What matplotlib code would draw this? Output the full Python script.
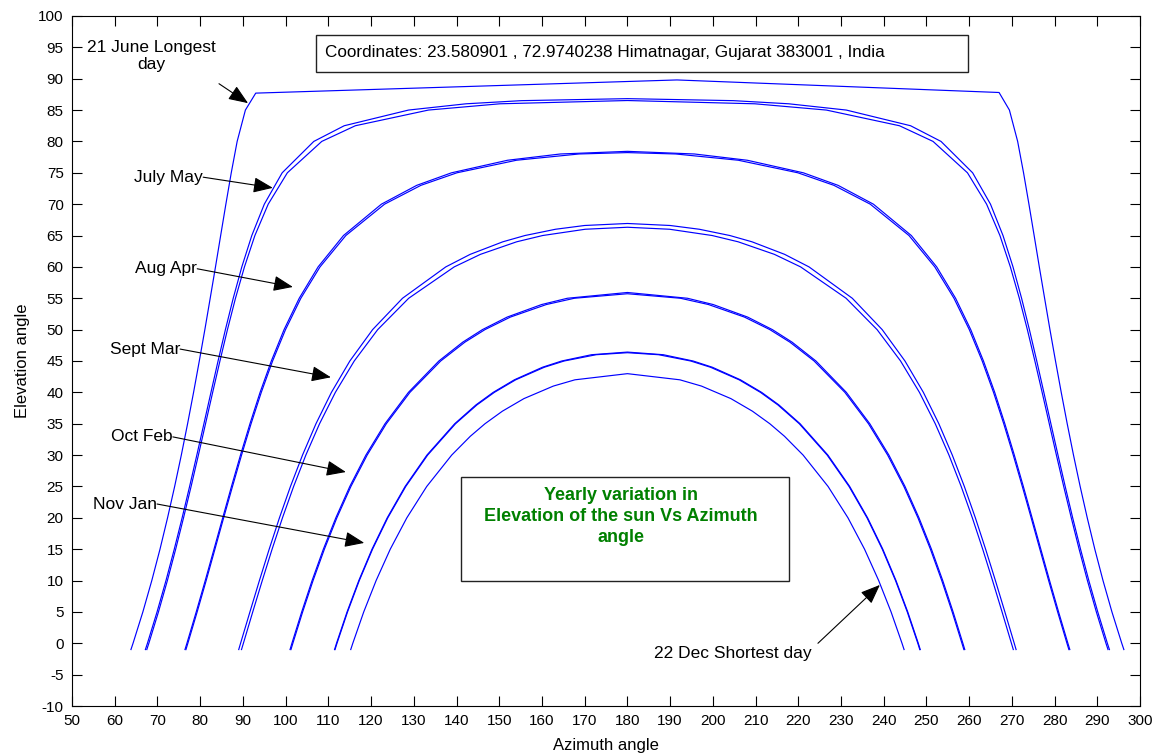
import matplotlib
matplotlib.use("Agg")
import matplotlib.pyplot as plt
from matplotlib.patches import Rectangle

plt.rcParams['font.family'] = ['Liberation Sans', 'DejaVu Sans']
plt.rcParams['axes.unicode_minus'] = False

# Sun path curves. For every curve: elevation levels and the
# azimuth where the curve crosses each level before noon (Am) and after (Pm).
noonAz = 180

juneElev = [-1, 0, 5, 10, 15, 20, 25, 30, 35, 40, 45, 50, 55, 60, 65, 70, 75, 80, 85]
juneAm = [63.79, 64.28, 66.58, 68.67, 70.59, 72.36, 74.02, 75.58, 77.05, 78.45,
          79.79, 81.09, 82.34, 83.58, 84.79, 86.01, 87.27, 88.65, 90.58]
junePm = [296.21, 295.72, 293.42, 291.33, 289.41, 287.64, 285.98, 284.42, 282.95, 281.55,
          280.21, 278.91, 277.66, 276.42, 275.21, 273.99, 272.73, 271.35, 269.42]
juneTopAz = [93.0, 191.6, 267.0]
juneTopElev = [87.7, 89.8, 87.8]

julyElev = [-1, 0, 5, 10, 15, 20, 25, 30, 35, 40, 45, 50, 55, 60, 65, 70, 75, 80, 82.5, 85, 86, 86.5]
julyAm = [67.17, 67.65, 69.90, 71.99, 73.93, 75.77, 77.52, 79.21, 80.87, 82.52, 84.18,
          85.90, 87.73, 89.74, 92.08, 95.01, 99.19, 106.59, 113.71, 128.76, 142.25, 155.2]
julyPm = [292.83, 292.35, 290.10, 288.01, 286.07, 284.23, 282.48, 280.79, 279.13, 277.48, 275.82,
          274.10, 272.27, 270.26, 267.92, 264.99, 260.81, 253.41, 246.29, 231.24, 217.75, 204.8]
julyPeak = 86.82

mayElev = [-1, 0, 5, 10, 15, 20, 25, 30, 35, 40, 45, 50, 55, 60, 65, 70, 75, 80, 82.5, 85, 86]
mayAm = [67.50, 67.98, 70.23, 72.32, 74.26, 76.10, 77.87, 79.58, 81.25, 82.92, 84.62,
         86.38, 88.26, 90.36, 92.80, 95.92, 100.40, 108.45, 116.31, 133.43, 150.18]
mayPm = [292.50, 292.02, 289.77, 287.68, 285.74, 283.90, 282.13, 280.42, 278.75, 277.08, 275.38,
         273.62, 271.74, 269.64, 267.20, 264.08, 259.60, 251.55, 243.69, 226.57, 209.82]
mayPeak = 86.52

augElev = [-1, 0, 5, 10, 15, 20, 25, 30, 35, 40, 45, 50, 55, 60, 65, 70, 73, 75, 77, 78]
augAm = [76.44, 76.89, 79.07, 81.18, 83.23, 85.27, 87.32, 89.43, 91.65, 94.02,
         96.65, 99.63, 103.18, 107.60, 113.54, 122.42, 130.69, 138.83, 151.94, 164.33]
augPm = [283.56, 283.11, 280.93, 278.82, 276.77, 274.73, 272.68, 270.57, 268.35, 265.98,
         263.35, 260.37, 256.82, 252.40, 246.46, 237.58, 229.31, 221.17, 208.06, 195.67]
augPeak = 78.42

aprElev = [-1, 0, 5, 10, 15, 20, 25, 30, 35, 40, 45, 50, 55, 60, 65, 70, 73, 75, 77, 78]
aprAm = [76.66, 77.11, 79.29, 81.40, 83.45, 85.49, 87.56, 89.68, 91.91, 94.30,
         96.95, 99.97, 103.56, 108.05, 114.09, 123.16, 131.66, 140.10, 154.03, 168.7]
aprPm = [283.34, 282.89, 280.71, 278.60, 276.55, 274.51, 272.44, 270.32, 268.09, 265.70,
         263.05, 260.03, 256.44, 251.95, 245.91, 236.84, 228.34, 219.90, 205.97, 191.3]
aprPeak = 78.22

septElev = [-1, 0, 5, 10, 15, 20, 25, 30, 35, 40, 45, 50, 55, 60, 62, 64, 65, 66, 66.6]
septAm = [89.02, 89.45, 91.64, 93.86, 96.15, 98.55, 101.13, 103.95, 107.10, 110.72,
          115.03, 120.36, 127.36, 137.49, 143.20, 150.84, 156.02, 163.17, 170.0]
septPm = [270.98, 270.55, 268.36, 266.14, 263.85, 261.45, 258.87, 256.05, 252.90, 249.28,
          244.97, 239.64, 232.64, 222.51, 216.80, 209.16, 203.98, 196.83, 190.0]
septPeak = 66.92

marElev = [-1, 0, 5, 10, 15, 20, 25, 30, 35, 40, 45, 50, 55, 60, 62, 64, 65, 66]
marAm = [89.67, 90.11, 92.30, 94.53, 96.83, 99.26, 101.87, 104.73, 107.94, 111.64,
         116.06, 121.55, 128.81, 139.46, 145.60, 154.08, 160.16, 170.12]
marPm = [270.33, 269.89, 267.70, 265.47, 263.17, 260.74, 258.13, 255.27, 252.06, 248.36,
         243.94, 238.45, 231.19, 220.54, 214.40, 205.92, 199.84, 189.88]
marPeak = 66.32

octElev = [-1, 0, 5, 10, 15, 20, 25, 30, 35, 40, 45, 48, 50, 52, 54, 55]
octAm = [101.24, 101.69, 103.98, 106.42, 109.07, 111.99, 115.28, 119.08, 123.57, 129.10,
         136.30, 141.96, 146.66, 152.61, 161.03, 167.59]
octPm = [258.76, 258.31, 256.02, 253.58, 250.93, 248.01, 244.72, 240.92, 236.43, 230.90,
         223.70, 218.04, 213.34, 207.39, 198.97, 192.41]
octPeak = 55.72

febElev = [-1, 0, 5, 10, 15, 20, 25, 30, 35, 40, 45, 48, 50, 52, 54, 55]
febAm = [101.03, 101.47, 103.76, 106.19, 108.83, 111.75, 115.02, 118.79, 123.26, 128.75,
         135.87, 141.45, 146.06, 151.86, 159.93, 165.95]
febPm = [258.97, 258.53, 256.24, 253.81, 251.17, 248.25, 244.98, 241.21, 236.74, 231.25,
         224.13, 218.55, 213.94, 208.14, 200.07, 194.05]
febPeak = 55.92

novElev = [-1, 0, 5, 10, 15, 20, 25, 30, 35, 38, 40, 42, 44, 45, 46]
novAm = [111.45, 111.91, 114.38, 117.13, 120.22, 123.78, 127.97, 133.07, 139.58, 144.55,
         148.59, 153.54, 160.11, 164.63, 171.6]
novPm = [248.55, 248.09, 245.62, 242.87, 239.78, 236.22, 232.03, 226.93, 220.42, 215.45,
         211.41, 206.46, 199.89, 195.37, 188.4]
novPeak = 46.42

janElev = [-1, 0, 5, 10, 15, 20, 25, 30, 35, 38, 40, 42, 44, 45, 46]
janAm = [111.56, 112.02, 114.49, 117.24, 120.34, 123.91, 128.12, 133.24, 139.77, 144.78,
         148.86, 153.85, 160.54, 165.2, 172.7]
janPm = [248.44, 247.98, 245.51, 242.76, 239.66, 236.09, 231.88, 226.76, 220.23, 215.22,
         211.14, 206.15, 199.46, 194.8, 187.3]
janPeak = 46.32

decElev = [-1, 0, 5, 10, 15, 20, 25, 30, 33, 35, 37, 39, 41, 42]
decAm = [115.24, 115.72, 118.28, 121.18, 124.49, 128.37, 133.03, 138.87, 143.23, 146.67,
         150.74, 155.77, 162.66, 167.72]
decPm = [244.76, 244.28, 241.72, 238.82, 235.51, 231.63, 226.97, 221.13, 216.77, 213.33,
         209.26, 204.23, 197.34, 192.28]
decPeak = 42.98

# Month labels and where their arrows point (azimuth, elevation)
labelTexts = ["July May", "Aug Apr", "Sept Mar", "Oct Feb", "Nov Jan"]
labelTail = [(80.7, 74.3), (79.3, 59.7), (75.3, 46.9), (73.6, 32.9), (69.9, 22.2)]
labelTip = [(97.0, 72.6), (101.7, 56.8), (110.6, 42.4), (114.1, 27.3), (118.4, 16.0)]

coordText = "Coordinates: 23.580901 , 72.9740238 Himatnagar, Gujarat 383001 , India"
titleText = "Yearly variation in\nElevation of the sun Vs Azimuth\nangle"

curveColor = '#0000ff'
arrowProps = dict(arrowstyle='-|>,head_length=1.0,head_width=0.4', color='black',
                  lw=0.8, mutation_scale=12, shrinkA=0, shrinkB=0)

fig = plt.figure(figsize=(11.6, 7.53), dpi=100)
ax = fig.add_axes([0.0621, 0.0624, 0.9207, 0.9164])

# June curve has its own flat top
ax.plot(juneAm + juneTopAz + junePm[::-1], juneElev + juneTopElev + juneElev[::-1],
        color=curveColor, lw=0.85)

curves = [(julyElev, julyAm, julyPm, julyPeak), (mayElev, mayAm, mayPm, mayPeak),
          (augElev, augAm, augPm, augPeak), (aprElev, aprAm, aprPm, aprPeak),
          (septElev, septAm, septPm, septPeak), (marElev, marAm, marPm, marPeak),
          (octElev, octAm, octPm, octPeak), (febElev, febAm, febPm, febPeak),
          (novElev, novAm, novPm, novPeak), (janElev, janAm, janPm, janPeak),
          (decElev, decAm, decPm, decPeak)]
for elev, am, pm, peak in curves:
    ax.plot(am + [noonAz] + pm[::-1], elev + [peak] + elev[::-1],
            color=curveColor, lw=0.85)

# Axis settings
ax.set_xlim(50, 300)
ax.set_ylim(-10, 100)
ax.set_xticks(range(50, 301, 10))
ax.set_yticks(range(-10, 101, 5))
ax.tick_params(direction='in', length=7, width=0.8, top=True, right=True,
               labelsize=11, pad=6)
for sp in ax.spines.values():
    sp.set_linewidth(0.8)
ax.set_xlabel("Azimuth angle", fontsize=12, labelpad=7)
ax.set_ylabel("Elevation angle", fontsize=12, labelpad=6)

# Annotations
ax.text(68.5, 93.6, "21 June Longest\nday", fontsize=12.5, ha='center', va='center')
ax.annotate("", xy=(91.2, 86.1), xytext=(84.4, 89.2), arrowprops=arrowProps)

for txt, tail, tip in zip(labelTexts, labelTail, labelTip):
    ax.text(tail[0], tail[1], txt, fontsize=12.5, ha='right', va='center')
    ax.annotate("", xy=tip, xytext=tail, arrowprops=arrowProps)

ax.text(204.6, -1.7, "22 Dec Shortest day", fontsize=12.5, ha='center', va='center')
ax.annotate("", xy=(239.1, 9.3), xytext=(224.6, 0.0), arrowprops=arrowProps)

# Text boxes
ax.add_patch(Rectangle((107.1, 91.1), 152.6, 5.9, fill=False, edgecolor='#222222', lw=1))
ax.text(109.2, 94.1, coordText, fontsize=12.3, ha='left', va='center')

ax.add_patch(Rectangle((141.1, 10.0), 76.7, 16.5, fill=False, edgecolor='#222222', lw=1))
ax.text(178.5, 24.9, titleText, fontsize=13, fontweight='bold', color='#008000',
        ha='center', va='top', linespacing=1.3)

fig.savefig("out.png", dpi=100)
